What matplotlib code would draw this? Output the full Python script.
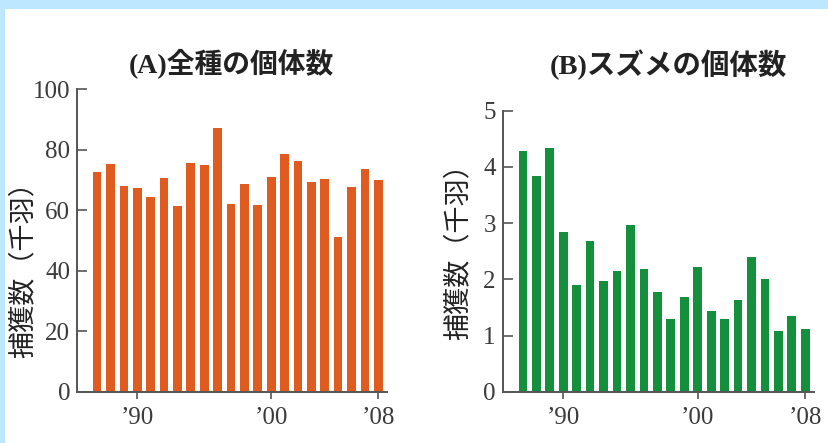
import matplotlib
matplotlib.use("Agg")
import matplotlib.pyplot as plt
from matplotlib.patches import Rectangle

years = list(range(1987, 2009))
all_species = [72.5, 75.4, 68.1, 67.2, 64.5, 70.7, 61.5, 75.7, 74.9, 87.0, 62.0,
               68.6, 61.8, 71.1, 78.4, 76.3, 69.2, 70.2, 51.1, 67.5, 73.5, 70.0]
sparrow = [4.29, 3.84, 4.34, 2.85, 1.90, 2.68, 1.97, 2.14, 2.97, 2.19, 1.78,
           1.29, 1.68, 2.21, 1.43, 1.29, 1.63, 2.39, 2.00, 1.08, 1.34, 1.11]
xtick_years = [1990, 2000, 2008]
xtick_labels = ["\u201990", "\u201900", "\u201908"]
title_a = "(A)全種の個体数"
title_b = "(B)スズメの個体数"
ylabel = "捕獲数（千羽）"

orange = "#E05B1F"
green = "#14903D"
spine_col = "#555555"
serif = ["Liberation Serif", "Noto Sans CJK JP"]
cjk = ["Noto Sans CJK JP", "DejaVu Sans"]

fig = plt.figure(figsize=(8.29, 4.43), dpi=100, facecolor="white")
fig.patches.append(Rectangle((0, 1 - 9 / 443), 1, 9 / 443, transform=fig.transFigure,
                             facecolor="#BDE6FF", edgecolor="none", zorder=0))
fig.patches.append(Rectangle((0, 0), 5 / 829, 1, transform=fig.transFigure,
                             facecolor="#BDE6FF", edgecolor="none", zorder=0))

ax1 = fig.add_axes([77 / 829, 1 - 392 / 443, 310 / 829, (392 - 89) / 443])
ax2 = fig.add_axes([502.7 / 829, 1 - 391.7 / 443, 311.3 / 829, (391.7 - 110.7) / 443])

def style(ax, ylim, yticks):
    ax.set_xlim(1985.5, 2008.65)
    ax.set_ylim(*ylim)
    ax.set_yticks(yticks)
    ax.set_xticks(xtick_years)
    ax.set_xticklabels(xtick_labels)
    for s in ["top", "right"]:
        ax.spines[s].set_visible(False)
    for s in ["left", "bottom"]:
        ax.spines[s].set_color(spine_col)
        ax.spines[s].set_linewidth(1.4)
    ax.tick_params(axis="y", direction="in", length=7, width=1.2, color=spine_col,
                   labelsize=18, pad=5)
    ax.tick_params(axis="x", direction="out", length=5, width=1.2, color=spine_col,
                   labelsize=18, pad=6)
    for lab in ax.get_xticklabels() + ax.get_yticklabels():
        lab.set_family(serif)
        lab.set_color("#3a3a3a")
    ax.set_facecolor("none")

ax1.bar(years, all_species, width=0.65, color=orange, zorder=1)
style(ax1, (0, 100), [0, 20, 40, 60, 80, 100])
ax2.bar(years, sparrow, width=0.65, color=green, zorder=1)
style(ax2, (0, 5), [0, 1, 2, 3, 4, 5])

fig.text(231 / 829, 1 - 63 / 443, title_a, ha="center", va="center", fontsize=20,
         fontweight="bold", family=serif, color="#222222")
fig.text(668 / 829, 1 - 65 / 443, title_b, ha="center", va="center", fontsize=20.5,
         fontweight="bold", family=serif, color="#222222")
fig.text(23 / 829, 1 - 263 / 443, ylabel, rotation=90, ha="center", va="center",
         fontsize=19.5, family=cjk, color="#222222")
fig.text(458 / 829, 1 - 245 / 443, ylabel, rotation=90, ha="center", va="center",
         fontsize=19.5, family=cjk, color="#222222")

fig.savefig("out.png", dpi=100, facecolor="white")
